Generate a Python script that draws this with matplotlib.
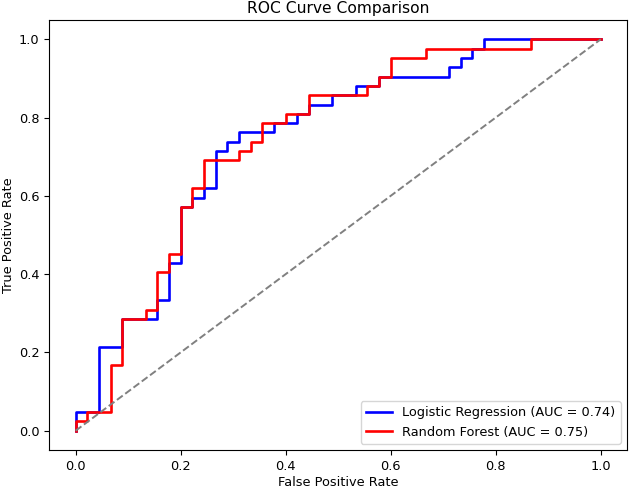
import matplotlib
matplotlib.use("Agg")
import matplotlib.pyplot as plt
import numpy as np

# test set: 45 negatives, 42 positives -> ROC step points (counts)
n_neg = 45
n_pos = 42

lr_fp = [0, 0, 2, 2, 4, 4, 7, 7, 8, 8, 9, 9, 10, 10, 11, 11, 12, 12, 13, 13, 14, 14,
         17, 17, 19, 19, 20, 20, 22, 22, 24, 24, 26, 26, 32, 32, 33, 33, 34, 34, 35, 35, 45]
lr_tp = [0, 2, 2, 9, 9, 12, 12, 14, 14, 18, 18, 24, 24, 25, 25, 26, 26, 30, 30, 31, 31, 32,
         32, 33, 33, 34, 34, 35, 35, 36, 36, 37, 37, 38, 38, 39, 39, 40, 40, 41, 41, 42, 42]

rf_fp = [0, 0, 1, 1, 3, 3, 4, 4, 6, 6, 7, 7, 8, 8, 9, 9, 10, 10, 11, 11, 14, 14,
         15, 15, 16, 16, 18, 18, 20, 20, 25, 25, 26, 26, 27, 27, 30, 30, 39, 39, 45]
rf_tp = [0, 1, 1, 2, 2, 7, 7, 12, 12, 13, 13, 17, 17, 19, 19, 24, 24, 26, 26, 29, 29, 30,
         30, 31, 31, 33, 33, 34, 34, 36, 36, 37, 37, 38, 38, 40, 40, 41, 41, 42, 42]

lr_auc = 0.74
rf_auc = 0.75

lr_fpr = np.array(lr_fp) / n_neg
lr_tpr = np.array(lr_tp) / n_pos
rf_fpr = np.array(rf_fp) / n_neg
rf_tpr = np.array(rf_tp) / n_pos

fs = 9.3
fig = plt.figure(figsize=(6.3, 4.88), dpi=100)
ax = fig.add_axes([0.0784, 0.0773, 0.9168, 0.8823])

ax.plot(lr_fpr, lr_tpr, color="blue", lw=1.9, label=f"Logistic Regression (AUC = {lr_auc:.2f})")
ax.plot(rf_fpr, rf_tpr, color="red", lw=1.9, label=f"Random Forest (AUC = {rf_auc:.2f})")
ax.plot([0, 1], [0, 1], color="gray", ls="--", lw=1.4)

ax.set_xlim(-0.05, 1.05)
ax.set_ylim(-0.05, 1.05)
ax.set_xticks([0.0, 0.2, 0.4, 0.6, 0.8, 1.0])
ax.set_yticks([0.0, 0.2, 0.4, 0.6, 0.8, 1.0])
ax.tick_params(labelsize=fs)
ax.set_xlabel("False Positive Rate", fontsize=fs, labelpad=2)
ax.set_ylabel("True Positive Rate", fontsize=fs, labelpad=3)
ax.set_title("ROC Curve Comparison", fontsize=11.2, pad=4.5)
ax.legend(loc="lower right", fontsize=fs)

fig.savefig("out.png", dpi=100)
